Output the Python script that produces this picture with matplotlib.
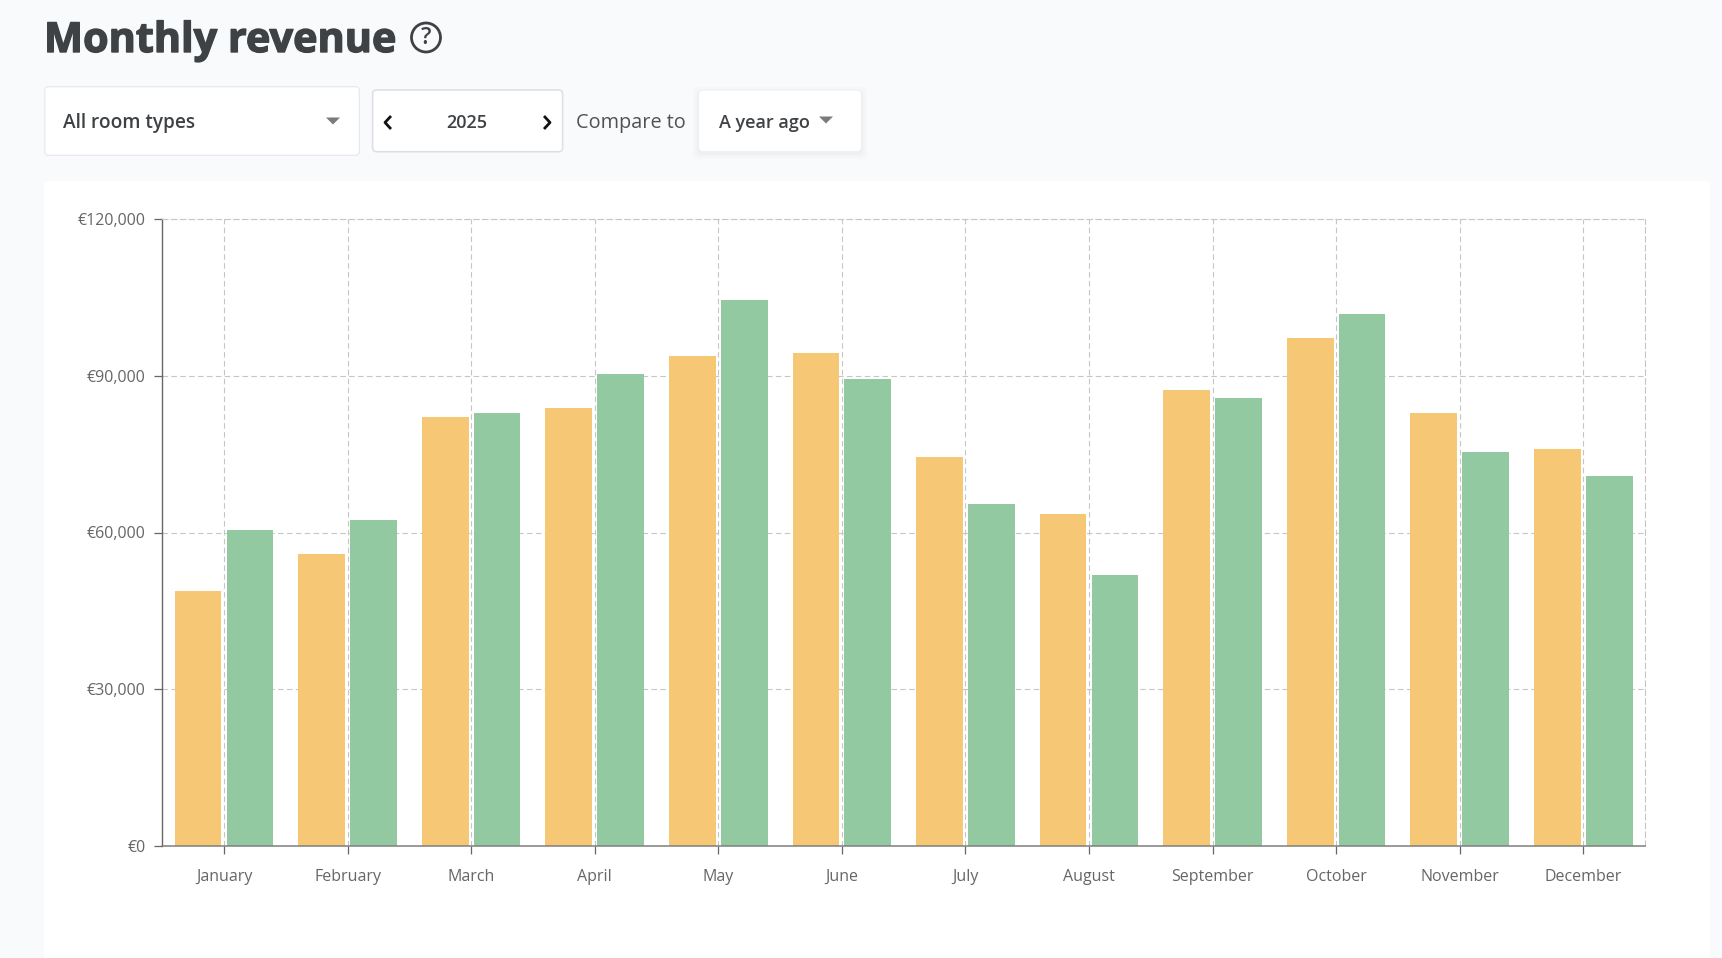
import matplotlib
matplotlib.use("Agg")
import matplotlib.pyplot as plt
import matplotlib.patheffects as pe
from matplotlib.patches import FancyBboxPatch, Polygon, Circle
import numpy as np

months = ["January", "February", "March", "April", "May", "June", "July",
          "August", "September", "October", "November", "December"]
current_year = [48700, 55900, 82200, 83800, 93900, 94300, 74500, 63500, 87300, 97300, 82800, 76000]
year_ago = [60400, 62400, 82900, 90400, 104500, 89500, 65500, 51900, 85800, 101900, 75500, 70800]
y_ticks = [0, 30000, 60000, 90000, 120000]
y_labels = ["€0", "€30,000", "€60,000", "€90,000", "€120,000"]
title = "Monthly revenue"

W, H = 1722, 958
BG, CARD = "#f9fafc", "#ffffff"
ORANGE, GREEN = "#f6c775", "#93c9a1"
DARK, MID, GRID = "#3f4245", "#666666", "#c6c6c6"
plt.rcParams["font.family"] = ["Open Sans", "DejaVu Sans"]

fig = plt.figure(figsize=(W / 100, H / 100), dpi=100, facecolor=BG)

# page chrome, in pixel coordinates
ui = fig.add_axes([0, 0, 1, 1], zorder=0)
ui.set_xlim(0, W)
ui.set_ylim(H, 0)
ui.axis("off")

def box(x0, y0, x1, y1, edge="#e8e9ee", lw=0.9, r=4):
    ui.add_patch(FancyBboxPatch((x0 + r, y0 + r), x1 - x0 - 2 * r, y1 - y0 - 2 * r,
                                boxstyle=f"round,pad={r},rounding_size={r}",
                                fc=CARD, ec=edge, lw=lw))

def tri(cx, cy, w=7, h=7):
    ui.add_patch(Polygon([(cx - w, cy - h / 2), (cx + w, cy - h / 2), (cx, cy + h / 2)],
                         closed=True, fc="#7b7b7b", ec="none"))

# chart card
ui.add_patch(FancyBboxPatch((48, 185), 1658, 800, boxstyle="round,pad=4,rounding_size=4",
                            fc=CARD, ec="none"))
# soft shadow for the "A year ago" button
for pad, a in [(6, 0.010), (4, 0.012), (2, 0.016)]:
    ui.add_patch(FancyBboxPatch((699 - pad + 4, 91 - pad + 6), 162 + 2 * pad - 8, 60 + 2 * pad - 8,
                                boxstyle="round,pad=4,rounding_size=4", fc="black", ec="none", alpha=a))
box(44.8, 86.7, 359.4, 155.3)
box(372.6, 90, 562.6, 151.7, edge="#dcdee8", lw=1.1)
box(699, 91, 861, 151, edge="none", lw=0)

ui.text(44, 41.5, title, fontsize=29.8, fontweight="bold", color=DARK, va="center", ha="left",
        path_effects=[pe.withStroke(linewidth=1.0, foreground=DARK)])
ui.add_patch(Circle((426, 37.5), 14.5, fc="none", ec=DARK, lw=2))
ui.text(426, 37.5, "?", fontsize=16.5, color=DARK, ha="center", va="center", fontweight="semibold")

ui.text(63, 123, "All room types", fontsize=13.7, fontweight="semibold", color=DARK, va="center")
tri(333, 121)
ui.text(467, 123, "2025", fontsize=13, fontweight="semibold", color=DARK, ha="center", va="center")
ui.plot([391, 385, 391], [116, 122.5, 129], color="#111111", lw=2, solid_capstyle="butt")
ui.plot([544, 550, 544], [116, 122.5, 129], color="#111111", lw=2, solid_capstyle="butt")
ui.text(575.5, 123, "Compare to", fontsize=14.3, color="#4f5255", va="center")
ui.text(719, 123, "A year ago", fontsize=13, fontweight="semibold", color=DARK, va="center")
tri(826, 120)

# chart
ax = fig.add_axes([162.3 / W, 1 - 845.7 / H, (1645 - 162.3) / W, (845.7 - 219.3) / H], zorder=1)
ax.patch.set_alpha(0)
x = np.arange(len(months))
off, bw = 0.21, 0.378
ax.bar(x - off, current_year, bw, color=ORANGE, zorder=3)
ax.bar(x + off, year_ago, bw, color=GREEN, zorder=3)
ax.set_xlim(-0.5, len(months) - 0.5)
ax.set_ylim(0, 120000)
ax.set_xticks(x, months)
ax.set_yticks(y_ticks, y_labels)
dash = (0, (5, 3))
ax.grid(True, color=GRID, lw=0.8, linestyle=dash, zorder=1)
ax.set_axisbelow(True)
for s in ["top", "right"]:
    ax.spines[s].set_color(GRID)
    ax.spines[s].set_linewidth(0.8)
    ax.spines[s].set_linestyle(dash)
ax.spines["left"].set_color(MID)
ax.spines["left"].set_linewidth(1)
ax.spines["bottom"].set_color("#7f7f7f")
ax.spines["bottom"].set_linewidth(1.1)
ax.spines["bottom"].set_zorder(5)
ax.tick_params(axis="x", length=5.5, width=0.9, color=MID, labelcolor=MID, labelsize=11.5, pad=11)
ax.tick_params(axis="y", length=5.5, width=0.9, color=MID, labelcolor=MID, labelsize=11.5, pad=6.5)

fig.savefig("out.png", dpi=100, facecolor=BG)
